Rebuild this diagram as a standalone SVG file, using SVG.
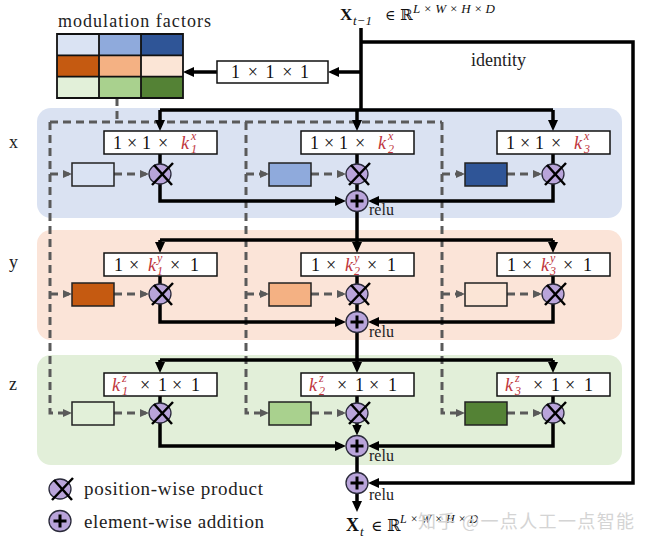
<svg xmlns="http://www.w3.org/2000/svg" xmlns:xlink="http://www.w3.org/1999/xlink" width="647" height="544" viewBox="0 0 647 544">
<style>
.t{font-family:"Liberation Serif","DejaVu Serif",serif;font-size:18px;fill:#111}
.k{font-style:italic;fill:#c0343c}
.ss{font-family:"Liberation Serif","DejaVu Serif",serif;font-size:12px;font-style:italic;fill:#c0343c}
.lbl{font-family:"Liberation Serif","DejaVu Serif",serif;font-size:18px;fill:#222}
.relu{font-family:"Liberation Serif","DejaVu Serif",serif;font-size:16px;fill:#222}
.ln{fill:none;stroke:#000;stroke-width:3.5}
.ar{marker-end:url(#ah)}
.ds{fill:none;stroke:#5a5a5a;stroke-width:3;stroke-dasharray:8 5}
.dar{marker-end:url(#gh)}
.kb{fill:#fff;stroke:#111;stroke-width:1.5}
.sb{stroke:#222;stroke-width:1.5}
.op{fill:#b9a4da;stroke:#2a2a3a;stroke-width:1.3}
</style>
<defs>
<marker id="ah" markerUnits="userSpaceOnUse" markerWidth="11" markerHeight="10" refX="7" refY="5" orient="auto"><path d="M0,0 L11,5 L0,10 z" fill="#000"/></marker>
<marker id="gh" markerUnits="userSpaceOnUse" markerWidth="9" markerHeight="8" refX="6" refY="4" orient="auto"><path d="M0,0 L9,4 L0,8 z" fill="#5a5a5a"/></marker>
<g id="mulSym"><ellipse class="op" cx="0" cy="0" rx="11" ry="10"/><path d="M-6,-9 L12,11 M-8,11 L13,-11" stroke="#000" stroke-width="2.5" fill="none"/></g>
<g id="addSym"><ellipse class="op" cx="0" cy="0" rx="11" ry="10.5"/><path d="M-6.5,0 H6.5 M0,-6.5 V6.5" stroke="#000" stroke-width="3" fill="none"/></g>
</defs>

<g id="bands">
<rect x="37" y="108" width="585" height="110" rx="14" fill="#dae2f2"/>
<rect x="37" y="230" width="585" height="110" rx="14" fill="#fbe4d8"/>
<rect x="37" y="355" width="585" height="110" rx="14" fill="#e2efd9"/>
</g>

<g id="labels">
<text class="lbl" x="9" y="148">x</text>
<text class="lbl" x="9" y="268">y</text>
<text class="lbl" x="9" y="390">z</text>
<text class="lbl" x="471" y="66">identity</text>
<text class="lbl" x="58" y="27" textLength="153" lengthAdjust="spacing">modulation factors</text>
<text class="relu" x="369" y="215">relu</text>
<text class="relu" x="369" y="337">relu</text>
<text class="relu" x="369" y="461">relu</text>
<text class="relu" x="369" y="500">relu</text>
<text x="340" y="20" font-family="Liberation Serif,DejaVu Serif,serif" font-size="17" font-weight="bold" fill="#111">X</text>
<text x="353" y="25" font-family="Liberation Serif,DejaVu Serif,serif" font-size="13" font-style="italic" fill="#111">t−1</text>
<text x="385" y="20" font-family="DejaVu Serif,serif" font-size="14" fill="#111">∈</text>
<text x="400" y="20" font-family="DejaVu Serif,serif" font-size="15" fill="#111">ℝ</text>
<text x="413" y="13" font-family="Liberation Serif,DejaVu Serif,serif" font-size="13" font-style="italic" fill="#111" textLength="82" lengthAdjust="spacing">L×W×H×D</text>
<text x="346" y="531" font-family="Liberation Serif,DejaVu Serif,serif" font-size="18" font-weight="bold" fill="#111">X</text>
<text x="360" y="536" font-family="Liberation Serif,DejaVu Serif,serif" font-size="13" font-style="italic" fill="#111">t</text>
<text x="371" y="531" font-family="DejaVu Serif,serif" font-size="15" fill="#111">∈</text>
<text x="387" y="531" font-family="DejaVu Serif,serif" font-size="16" fill="#111">ℝ</text>
<text x="400" y="523" font-family="Liberation Serif,DejaVu Serif,serif" font-size="12" font-style="italic" fill="#111" textLength="78" lengthAdjust="spacing">L×W×H×D</text>
<text x="418" y="528" font-family="Noto Sans CJK SC,sans-serif" font-size="18" fill="#d4d4d4" textLength="216" lengthAdjust="spacing">知乎 @一点人工一点智能</text>
</g>

<g id="connectors">
<path class="ds" d="M117,98 V122 M50,122 H442"/>
<path class="ds dar" d="M50,122 V413 H69"/>
<path class="ds dar" d="M246,122 V413 H266"/>
<path class="ds dar" d="M442,122 V413 H462"/>
<path class="ds dar" d="M50,174 H69"/>
<path class="ds dar" d="M246,174 H266"/>
<path class="ds dar" d="M442,174 H462"/>
<path class="ds dar" d="M50,294 H69"/>
<path class="ds dar" d="M246,294 H266"/>
<path class="ds dar" d="M442,294 H462"/>
<path class="ds dar" d="M114,174 H146"/>
<path class="ds dar" d="M311,174 H343"/>
<path class="ds dar" d="M507,174 H539"/>
<path class="ds dar" d="M114,294 H146"/>
<path class="ds dar" d="M311,294 H343"/>
<path class="ds dar" d="M507,294 H539"/>
<path class="ds dar" d="M114,413 H146"/>
<path class="ds dar" d="M311,413 H343"/>
<path class="ds dar" d="M507,413 H539"/>

<path class="ln" d="M361,28 V110 M160,110 H553"/>
<path class="ln ar" d="M160,110 V127"/>
<path class="ln ar" d="M357,110 V127"/>
<path class="ln ar" d="M553,110 V127"/>
<path class="ln ar" d="M361,42 H633 V483 H372"/>
<path class="ln ar" d="M361,72 H332"/>
<path class="ln ar" d="M217,72 H187"/>

<path class="ln" d="M160,154 V164 M357,154 V164 M553,154 V164 M357,184 V191"/>
<path class="ln ar" d="M160,184 V201 H342"/>
<path class="ln ar" d="M553,184 V201 H372"/>
<path class="ln" d="M160,240 H553"/>
<path class="ln ar" d="M357,211 V249"/>
<path class="ln ar" d="M160,240 V249"/>
<path class="ln ar" d="M553,240 V249"/>

<path class="ln" d="M160,276 V284 M357,276 V284 M553,276 V284 M357,304 V312"/>
<path class="ln ar" d="M160,304 V322 H342"/>
<path class="ln ar" d="M553,304 V322 H372"/>
<path class="ln" d="M160,360 H553"/>
<path class="ln ar" d="M357,332 V369"/>
<path class="ln ar" d="M160,360 V369"/>
<path class="ln ar" d="M553,360 V369"/>

<path class="ln" d="M160,396 V403 M357,396 V403 M553,396 V403"/>
<path class="ln ar" d="M357,423 V431.5"/>
<path class="ln ar" d="M160,423 V446 H342"/>
<path class="ln ar" d="M553,423 V446 H372"/>
<path class="ln" d="M357,456 V473"/>
<path class="ln ar" d="M357,493 V508"/>
</g>

<g id="modulation-factors">
<rect x="57" y="34" width="42" height="21.3" fill="#dae3f3"/>
<rect x="99" y="34" width="42" height="21.3" fill="#8faadc"/>
<rect x="141" y="34" width="42" height="21.3" fill="#2f5597"/>
<rect x="57" y="55.3" width="42" height="21.4" fill="#c55a11"/>
<rect x="99" y="55.3" width="42" height="21.4" fill="#f4b183"/>
<rect x="141" y="55.3" width="42" height="21.4" fill="#fbe5d6"/>
<rect x="57" y="76.7" width="42" height="21.3" fill="#e2f0d9"/>
<rect x="99" y="76.7" width="42" height="21.3" fill="#a9d18e"/>
<rect x="141" y="76.7" width="42" height="21.3" fill="#548235"/>
<path d="M57,34 H183 V98 H57 Z M99,34 V98 M141,34 V98 M57,55.3 H183 M57,76.7 H183" fill="none" stroke="#111" stroke-width="1.8"/>
</g>

<g id="conv111">
<rect class="kb" x="217" y="61" width="111" height="22"/>
<text class="t" x="231" y="78" textLength="78" lengthAdjust="spacing">1 × 1 × 1</text>
</g>

<!-- row x -->
<g id="kx1"><rect class="kb" x="104" y="131" width="113" height="23"/>
<text class="t" y="149"><tspan x="113">1</tspan><tspan x="127">×</tspan><tspan x="142">1</tspan><tspan x="158">×</tspan><tspan x="181" class="k">k</tspan></text>
<text class="ss" x="191" y="140">x</text><text class="ss" x="191" y="153">1</text></g>
<g id="kx2"><rect class="kb" x="301" y="131" width="113" height="23"/>
<text class="t" y="149"><tspan x="310">1</tspan><tspan x="324">×</tspan><tspan x="339">1</tspan><tspan x="355">×</tspan><tspan x="378" class="k">k</tspan></text>
<text class="ss" x="388" y="140">x</text><text class="ss" x="388" y="153">2</text></g>
<g id="kx3"><rect class="kb" x="497" y="131" width="113" height="23"/>
<text class="t" y="149"><tspan x="506">1</tspan><tspan x="520">×</tspan><tspan x="535">1</tspan><tspan x="551">×</tspan><tspan x="574" class="k">k</tspan></text>
<text class="ss" x="584" y="140">x</text><text class="ss" x="584" y="153">3</text></g>
<g id="fx1"><rect class="sb" x="72" y="163" width="42" height="23" fill="#dae3f3"/></g>
<g id="fx2"><rect class="sb" x="269" y="163" width="42" height="23" fill="#8faadc"/></g>
<g id="fx3"><rect class="sb" x="465" y="163" width="42" height="23" fill="#2f5597"/></g>
<g id="mx1"><use xlink:href="#mulSym" x="160" y="174"/></g>
<g id="mx2"><use xlink:href="#mulSym" x="357" y="174"/></g>
<g id="mx3"><use xlink:href="#mulSym" x="553" y="174"/></g>
<g id="ax"><use xlink:href="#addSym" x="357" y="201"/></g>

<!-- row y -->
<g id="ky1"><rect class="kb" x="104" y="253" width="113" height="23"/>
<text class="t" y="271"><tspan x="114">1</tspan><tspan x="129">×</tspan><tspan x="148" class="k">k</tspan><tspan x="170">×</tspan><tspan x="190">1</tspan></text>
<text class="ss" x="157" y="262">y</text><text class="ss" x="157" y="275">1</text></g>
<g id="ky2"><rect class="kb" x="301" y="253" width="113" height="23"/>
<text class="t" y="271"><tspan x="311">1</tspan><tspan x="326">×</tspan><tspan x="345" class="k">k</tspan><tspan x="367">×</tspan><tspan x="387">1</tspan></text>
<text class="ss" x="354" y="262">y</text><text class="ss" x="354" y="275">2</text></g>
<g id="ky3"><rect class="kb" x="497" y="253" width="113" height="23"/>
<text class="t" y="271"><tspan x="507">1</tspan><tspan x="522">×</tspan><tspan x="541" class="k">k</tspan><tspan x="563">×</tspan><tspan x="583">1</tspan></text>
<text class="ss" x="550" y="262">y</text><text class="ss" x="550" y="275">3</text></g>
<g id="fy1"><rect class="sb" x="72" y="283" width="42" height="23" fill="#c55a11"/></g>
<g id="fy2"><rect class="sb" x="269" y="283" width="42" height="23" fill="#f4b183"/></g>
<g id="fy3"><rect class="sb" x="465" y="283" width="42" height="23" fill="#fbe5d6"/></g>
<g id="my1"><use xlink:href="#mulSym" x="160" y="294"/></g>
<g id="my2"><use xlink:href="#mulSym" x="357" y="294"/></g>
<g id="my3"><use xlink:href="#mulSym" x="553" y="294"/></g>
<g id="ay"><use xlink:href="#addSym" x="357" y="322"/></g>

<!-- row z -->
<g id="kz1"><rect class="kb" x="104" y="373" width="113" height="23"/>
<text class="t" y="391"><tspan x="112" class="k">k</tspan><tspan x="140">×</tspan><tspan x="158">1</tspan><tspan x="172">×</tspan><tspan x="191">1</tspan></text>
<text class="ss" x="122" y="382">z</text><text class="ss" x="122" y="395">1</text></g>
<g id="kz2"><rect class="kb" x="301" y="373" width="113" height="23"/>
<text class="t" y="391"><tspan x="309" class="k">k</tspan><tspan x="337">×</tspan><tspan x="355">1</tspan><tspan x="369">×</tspan><tspan x="388">1</tspan></text>
<text class="ss" x="319" y="382">z</text><text class="ss" x="319" y="395">2</text></g>
<g id="kz3"><rect class="kb" x="497" y="373" width="113" height="23"/>
<text class="t" y="391"><tspan x="505" class="k">k</tspan><tspan x="533">×</tspan><tspan x="551">1</tspan><tspan x="565">×</tspan><tspan x="584">1</tspan></text>
<text class="ss" x="515" y="382">z</text><text class="ss" x="515" y="395">3</text></g>
<g id="fz1"><rect class="sb" x="72" y="402" width="42" height="23" fill="#e2f0d9"/></g>
<g id="fz2"><rect class="sb" x="269" y="402" width="42" height="23" fill="#a9d18e"/></g>
<g id="fz3"><rect class="sb" x="465" y="402" width="42" height="23" fill="#548235"/></g>
<g id="mz1"><use xlink:href="#mulSym" x="160" y="413"/></g>
<g id="mz2"><use xlink:href="#mulSym" x="357" y="413"/></g>
<g id="mz3"><use xlink:href="#mulSym" x="553" y="413"/></g>
<g id="az"><use xlink:href="#addSym" x="357" y="446"/></g>
<g id="afinal"><use xlink:href="#addSym" x="357" y="483"/></g>

<g id="legend">
<use xlink:href="#mulSym" x="60" y="489"/>
<text class="lbl" x="84" y="495" textLength="179" lengthAdjust="spacing" style="font-size:19px">position-wise product</text>
<use xlink:href="#addSym" x="60" y="521"/>
<text class="lbl" x="84" y="528" textLength="180" lengthAdjust="spacing" style="font-size:19px">element-wise addition</text>
</g>
</svg>
